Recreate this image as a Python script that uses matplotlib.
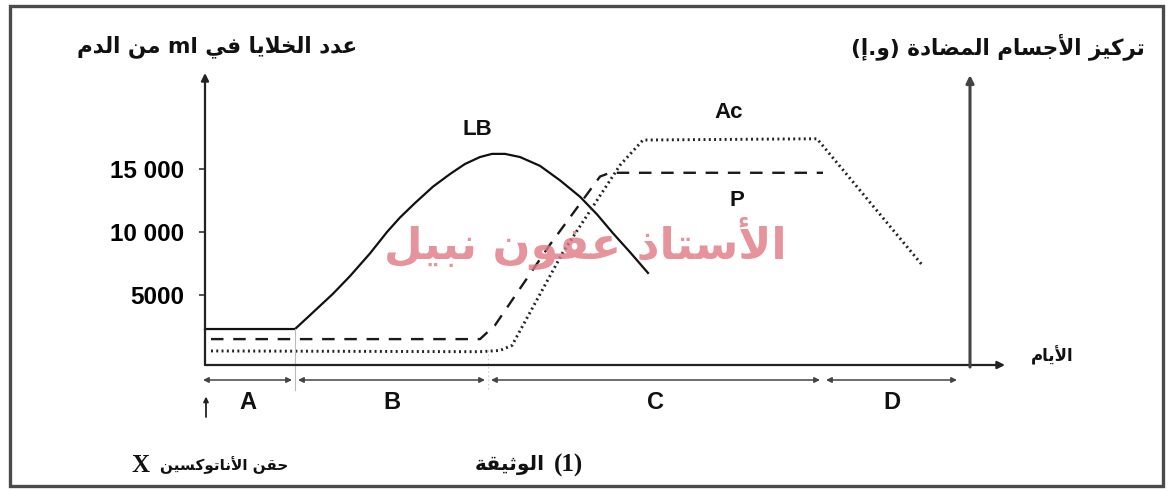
import matplotlib
matplotlib.use("Agg")
import matplotlib.pyplot as plt
from matplotlib.patches import Rectangle

plt.rcParams["lines.scale_dashes"] = False

# ---------------- data ----------------
# LB cells (cells per ml of blood) versus days after injection
lb_days = [0, 4.5, 5.25, 6.4, 7.25, 8.25, 9.1, 9.75, 10.5, 11.4, 12.25, 13.0, 13.75, 14.35,
           15.0, 15.75, 16.75, 17.75, 18.75, 19.6, 20.4, 21.25, 22.15]
lb_cells = [2300, 2300, 3400, 5100, 6500, 8300, 10000, 11150, 12300, 13600, 14600, 15400, 15950,
            16200, 16200, 15950, 15250, 14100, 12800, 11400, 9900, 8400, 6750]

# Plasmocytes P
p_days = [0.3, 13.75, 14.5, 17.25, 19.75, 20.25, 30.9]
p_cells = [1500, 1500, 2600, 9000, 14400, 14700, 14700]

# Antibody concentration Ac (arbitrary units)
ac_days = [0.3, 13.75, 14.75, 15.35, 17.9, 20.75, 21.9, 30.6, 35.85]
ac_level = [560, 500, 600, 1000, 8400, 15300, 17300, 17400, 7400]

y_ticks = [5000, 10000, 15000]
y_tick_labels = ["5000", "10 000", "15 000"]

phase_names = ["A", "B", "C", "D"]
phase_edges = [-0.25, 4.5, 14.15, 30.9, 37.75]

# ---------------- Arabic shaping ----------------
# (isolated, final, initial, medial) presentation forms
FORMS = {
    "ا": (0xFE8D, 0xFE8E, None, None),
    "أ": (0xFE83, 0xFE84, None, None),
    "إ": (0xFE87, 0xFE88, None, None),
    "ب": (0xFE8F, 0xFE90, 0xFE91, 0xFE92),
    "ة": (0xFE93, 0xFE94, None, None),
    "ت": (0xFE95, 0xFE96, 0xFE97, 0xFE98),
    "ث": (0xFE99, 0xFE9A, 0xFE9B, 0xFE9C),
    "ج": (0xFE9D, 0xFE9E, 0xFE9F, 0xFEA0),
    "ح": (0xFEA1, 0xFEA2, 0xFEA3, 0xFEA4),
    "خ": (0xFEA5, 0xFEA6, 0xFEA7, 0xFEA8),
    "د": (0xFEA9, 0xFEAA, None, None),
    "ذ": (0xFEAB, 0xFEAC, None, None),
    "ر": (0xFEAD, 0xFEAE, None, None),
    "ز": (0xFEAF, 0xFEB0, None, None),
    "س": (0xFEB1, 0xFEB2, 0xFEB3, 0xFEB4),
    "ض": (0xFEBD, 0xFEBE, 0xFEBF, 0xFEC0),
    "ع": (0xFEC9, 0xFECA, 0xFECB, 0xFECC),
    "ف": (0xFED1, 0xFED2, 0xFED3, 0xFED4),
    "ق": (0xFED5, 0xFED6, 0xFED7, 0xFED8),
    "ك": (0xFED9, 0xFEDA, 0xFEDB, 0xFEDC),
    "ل": (0xFEDD, 0xFEDE, 0xFEDF, 0xFEE0),
    "م": (0xFEE1, 0xFEE2, 0xFEE3, 0xFEE4),
    "ن": (0xFEE5, 0xFEE6, 0xFEE7, 0xFEE8),
    "و": (0xFEED, 0xFEEE, None, None),
    "ي": (0xFEF1, 0xFEF2, 0xFEF3, 0xFEF4),
}
LAM_ALEF = {"ا": (0xFEFB, 0xFEFC), "أ": (0xFEF7, 0xFEF8), "إ": (0xFEF9, 0xFEFA)}
MIRROR = {"(": ")", ")": "("}


def shape_word(word):
    items = []
    i = 0
    while i < len(word):
        c = word[i]
        if c == "ل" and i + 1 < len(word) and word[i + 1] in LAM_ALEF:
            items.append(("LA", word[i + 1]))
            i += 2
        else:
            items.append(("C", c))
            i += 1

    def is_letter(it):
        return it[0] == "LA" or it[1] in FORMS

    def joins_next(it):
        return it[0] == "C" and it[1] in FORMS and FORMS[it[1]][2] is not None

    out = []
    for k, it in enumerate(items):
        prev_j = k > 0 and joins_next(items[k - 1]) and is_letter(it)
        next_j = joins_next(it) and k + 1 < len(items) and is_letter(items[k + 1])
        kind, c = it
        if kind == "LA":
            iso, fin = LAM_ALEF[c]
            out.append(chr(fin if prev_j else iso))
        elif c in FORMS:
            iso, fin, ini, med = FORMS[c]
            if prev_j and next_j:
                cp = med
            elif prev_j:
                cp = fin
            elif next_j:
                cp = ini
            else:
                cp = iso
            out.append(chr(cp))
        else:
            out.append(c)
    return out


def rtl(text):
    """Shape an Arabic sentence and return it in visual (left-to-right) order."""
    vis = []
    for tok in reversed(text.split(" ")):
        if any(ch in FORMS for ch in tok):
            shaped = shape_word(tok)
            vis.append("".join(MIRROR.get(ch, ch) for ch in reversed(shaped)))
        else:
            vis.append(tok)
    return " ".join(vis)


# ---------------- figure ----------------
W, H = 1173, 491
fig = plt.figure(figsize=(W / 100, H / 100), dpi=100)
fig.patch.set_facecolor("white")


def px(x, y):
    return x / W, 1 - y / H


# outer frame
fig.patches.append(Rectangle(px(10, 486), 1153 / W, 480 / H, transform=fig.transFigure,
                             fill=False, lw=2.4, edgecolor="#4a4a4a"))

# main axes: x in days, y in cells / ml
y_bot = (358 - 365) / 0.0126
y_top = (358 - 73) / 0.0126
ax = fig.add_axes([205 / W, (H - 365) / H, 800 / W, 292 / H])
ax.set_xlim(0, 40)
ax.set_ylim(y_bot, y_top)
for s in ax.spines.values():
    s.set_visible(False)
ax.set_xticks([])
ax.set_yticks(y_ticks)
ax.set_yticklabels(y_tick_labels, fontsize=17.5, fontweight="bold", family="Liberation Sans")
ax.tick_params(axis="y", direction="out", length=4, width=1.2, color="#333", pad=11)
ax.patch.set_alpha(0)

arrow_kw = dict(arrowstyle="-|>", lw=1.6, color="#222", mutation_scale=11, shrinkA=0, shrinkB=0)
# left vertical axis
ax.annotate("", xy=(0, 1), xytext=(0, 0), xycoords="axes fraction", arrowprops=arrow_kw)
# horizontal (days) axis
ax.annotate("", xy=(1, 0), xytext=(0, 0), xycoords="axes fraction", arrowprops=arrow_kw)
# right vertical axis (antibody concentration)
ax.annotate("", xy=(38.25, 0.993), xytext=(38.25, -0.007), xycoords=("data", "axes fraction"),
            arrowprops=dict(arrow_kw, lw=2.2, color="#444"))

# curves
ax.plot(lb_days, lb_cells, color="#111", lw=1.6, solid_joinstyle="round", clip_on=False)
ax.plot(p_days, p_cells, color="#1a1a1a", lw=1.7, dashes=(9, 7), clip_on=False)
ax.plot(ac_days, ac_level, color="#222", lw=2.1, dashes=(1.4, 2.4), clip_on=False)

# curve names
name_kw = dict(fontsize=16, fontweight="bold", family="Liberation Sans", ha="center",
               va="center", color="#111")
ax.text(13.6, 18100, "LB", **name_kw)
ax.text(26.2, 19450, "Ac", **name_kw)
ax.text(26.6, 12500, "P", **name_kw)

# phase boundaries
trans_b = ax.get_xaxis_transform()
ax.plot([phase_edges[1]] * 2, [0.123, -0.086], transform=trans_b, color="#bbb", lw=0.8, clip_on=False)
ax.plot([phase_edges[2]] * 2, [0.05, -0.086], transform=trans_b, color="#ccc", lw=0.8,
        dashes=(1, 2), clip_on=False)

# phase arrows and names
gap = 0.15
for name, a, b in zip(phase_names, phase_edges[:-1], phase_edges[1:]):
    ax.annotate("", xy=(b - gap, -0.0514), xytext=(a + gap, -0.0514),
                xycoords=("data", "axes fraction"),
                arrowprops=dict(arrowstyle="<|-|>", lw=1.1, color="#444", mutation_scale=8,
                                shrinkA=0, shrinkB=0))
    ax.text((a + b) / 2, -0.127, name, transform=trans_b, ha="center", va="center",
            fontsize=17, fontweight="bold", family="Liberation Sans", color="#111")

# injection marker
ax.annotate("", xy=(0.05, -0.108), xytext=(0.05, -0.178), xycoords=("data", "axes fraction"),
            arrowprops=dict(arrowstyle="-|>", lw=1.3, color="#222", mutation_scale=7,
                            shrinkA=0, shrinkB=0))

# ---------------- texts ----------------
ar = dict(family=["DejaVu Sans"], fontweight="bold", color="#111", va="center")
fig.text(*px(217, 47), rtl("عدد الخلايا في ml من الدم"), ha="center", fontsize=15.5, **ar)
fig.text(*px(998, 47), rtl("تركيز الأجسام المضادة (و.إ)"), ha="center", fontsize=15.5, **ar)
fig.text(*px(1052, 356), rtl("الأيام"), ha="center", fontsize=12, **ar)

fig.text(*px(132, 465), "X", ha="left", va="center", fontsize=18, fontweight="bold",
         family="Liberation Serif", color="#111")
fig.text(*px(288, 465), rtl("حقن الأناتوكسين"), ha="right", fontsize=11, **ar)
fig.text(*px(545, 465), rtl("الوثيقة"), ha="right", fontsize=14.5, **ar)
fig.text(*px(554, 465), "(1)", ha="left", va="center", fontsize=18, fontweight="bold",
         family="Liberation Serif", color="#111")

# author mark
fig.text(*px(585, 243), rtl("الأستاذ عفون نبيل"), ha="center", va="center", fontsize=32,
         family=["DejaVu Sans"], fontweight="bold", color="#e07882", alpha=0.8)

fig.savefig("out.png", dpi=100, facecolor="white")
